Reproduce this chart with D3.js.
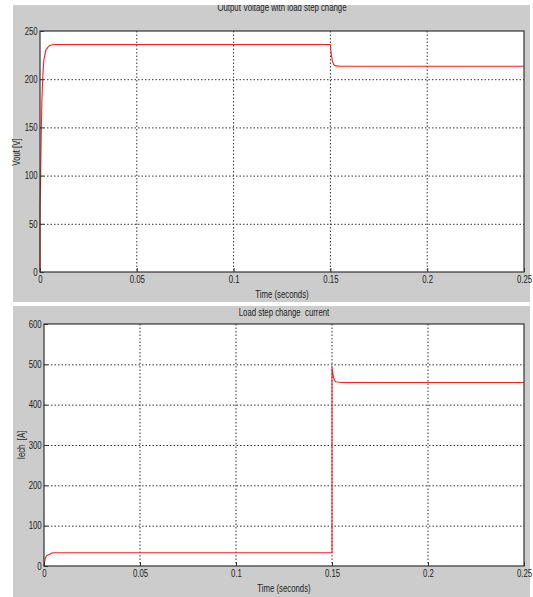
<!DOCTYPE html>
<html>
<head>
<meta charset="utf-8">
<script src="https://cdn.jsdelivr.net/npm/d3@7"></script>
<style>
  body { margin: 0; background: #fff; }
  svg { display: block; }
  text { font-family: "Liberation Sans", Arial, sans-serif; fill: #222; white-space: pre; }
</style>
</head>
<body>
<script>
// x tick values shared by both scopes
var timeTicks = [0, 0.05, 0.1, 0.15, 0.2, 0.25];
var timeTickLabels = ["0", "0.05", "0.1", "0.15", "0.2", "0.25"];

// Output voltage (V)
var vTime = [0, 0, 0.0003, 0.0006, 0.001, 0.0015, 0.002, 0.003, 0.004, 0.005, 0.007, 0.15, 0.1502, 0.1506, 0.151, 0.1515, 0.152, 0.153, 0.155, 0.25];
var vOut  = [0, 65, 95, 140, 180, 205, 220, 230, 233, 235, 236, 236, 230, 224, 219, 216, 214.5, 213.8, 213.5, 213.5];
var vTicks = [0, 50, 100, 150, 200, 250];

// Load current (A)
var iTime = [0, 0.0005, 0.001, 0.0015, 0.002, 0.003, 0.004, 0.005, 0.15, 0.15, 0.1505, 0.151, 0.1515, 0.152, 0.153, 0.155, 0.25];
var iLoad = [0, 15, 23, 26, 27, 29, 32, 33, 33, 494, 475, 464, 459, 457, 456, 455, 455];
var iTicks = [0, 100, 200, 300, 400, 500, 600];

var NARROW = 0.78; // matlab labels look condensed

var svg = d3.select("body").append("svg")
    .attr("width", 533)
    .attr("height", 597);

// clip for the top title (image is cropped at the top)
svg.append("clipPath").attr("id", "topclip")
  .append("rect").attr("x", 13).attr("y", 5).attr("width", 517).attr("height", 297);

function label(parent, x, y, txt, rot) {
  return parent.append("text")
    .attr("transform", "translate(" + x + "," + y + ")" + (rot ? " rotate(-90)" : "") + " scale(" + NARROW + ",1)")
    .attr("text-anchor", "middle").attr("font-size", 10)
    .text(txt);
}

function scope(cfg) {
  // gray figure panel
  svg.append("rect")
    .attr("x", cfg.panel[0]).attr("y", cfg.panel[1])
    .attr("width", cfg.panel[2]).attr("height", cfg.panel[3])
    .attr("fill", "#cccccc");

  var x = d3.scaleLinear().domain([0, 0.25]).range([cfg.left, cfg.right]);
  var y = d3.scaleLinear().domain(cfg.ydom).range([cfg.bottom, cfg.top]);

  var g = svg.append("g");

  g.append("rect")
    .attr("x", cfg.left).attr("y", cfg.top)
    .attr("width", cfg.right - cfg.left).attr("height", cfg.bottom - cfg.top)
    .attr("fill", "#fff");

  // grid
  g.selectAll(".vg").data(timeTicks.slice(1, -1)).enter().append("line")
    .attr("x1", function(d) { return x(d); }).attr("x2", function(d) { return x(d); })
    .attr("y1", cfg.top).attr("y2", cfg.bottom)
    .attr("stroke", "#333").attr("stroke-width", 1).attr("stroke-dasharray", "1.5,2");
  g.selectAll(".hg").data(cfg.yticks.slice(1, -1)).enter().append("line")
    .attr("y1", function(d) { return y(d) + 0.5; }).attr("y2", function(d) { return y(d) + 0.5; })
    .attr("x1", cfg.left).attr("x2", cfg.right)
    .attr("stroke", "#333").attr("stroke-width", 1).attr("stroke-dasharray", "1.5,2");

  // trace
  var pts = cfg.t.map(function(t, i) { return [t, cfg.v[i]]; });
  var line = d3.line()
    .x(function(d) { return x(d[0]); })
    .y(function(d) { return y(d[1]); });
  g.append("path")
    .datum(pts)
    .attr("d", line)
    .attr("fill", "none")
    .attr("stroke", "#ff2020")
    .attr("stroke-width", 1.1);

  // axes
  var xAxis = d3.axisBottom(x).tickValues(timeTicks)
    .tickFormat(function(d, i) { return timeTickLabels[i]; })
    .tickSizeInner(-4).tickSizeOuter(0).tickPadding(4);
  var yAxis = d3.axisLeft(y).tickValues(cfg.yticks)
    .tickFormat(d3.format("d"))
    .tickSizeInner(-4).tickSizeOuter(0).tickPadding(3);

  var xa = g.append("g").attr("transform", "translate(0," + cfg.bottom + ")").call(xAxis);
  var ya = g.append("g").attr("transform", "translate(" + cfg.left + ",0)").call(yAxis);
  [xa, ya].forEach(function(a) {
    a.selectAll("path").remove();
    a.selectAll("line").attr("stroke", "#333");
    a.selectAll("text").attr("font-size", 10).attr("fill", "#222")
      .attr("transform", "scale(" + NARROW + ",1)")
      .style("font-family", '"Liberation Sans", Arial, sans-serif');
  });

  // box
  g.append("rect")
    .attr("x", cfg.left).attr("y", cfg.top)
    .attr("width", cfg.right - cfg.left).attr("height", cfg.bottom - cfg.top)
    .attr("fill", "none").attr("stroke", "#333").attr("stroke-width", 1.2);

  // titles
  var tg = svg.append("g");
  if (cfg.clip) tg.attr("clip-path", "url(#topclip)");
  label(tg, (cfg.left + cfg.right) / 2, cfg.titleY, cfg.title, false);
  label(svg, (cfg.left + cfg.right) / 2, cfg.xlabelY, "Time (seconds)", false);
  label(svg, cfg.ylabelX, cfg.ylabelY, cfg.ylabel, true);
}

scope({
  panel: [13, 5, 517, 297],
  left: 40, right: 524, top: 31, bottom: 272,
  ydom: [0, 250], yticks: vTicks,
  t: vTime, v: vOut,
  title: "Output Voltage with load step change", titleY: 11, clip: true,
  xlabelY: 298,
  ylabel: "Vout [V]", ylabelX: 20, ylabelY: 152
});

scope({
  panel: [13, 306, 517, 291],
  left: 44, right: 524, top: 324, bottom: 566,
  ydom: [0, 600], yticks: iTicks,
  t: iTime, v: iLoad,
  title: "Load step change  current", titleY: 316, clip: false,
  xlabelY: 592,
  ylabel: "Iech  [A]", ylabelX: 25, ylabelY: 445
});
</script>
</body>
</html>
